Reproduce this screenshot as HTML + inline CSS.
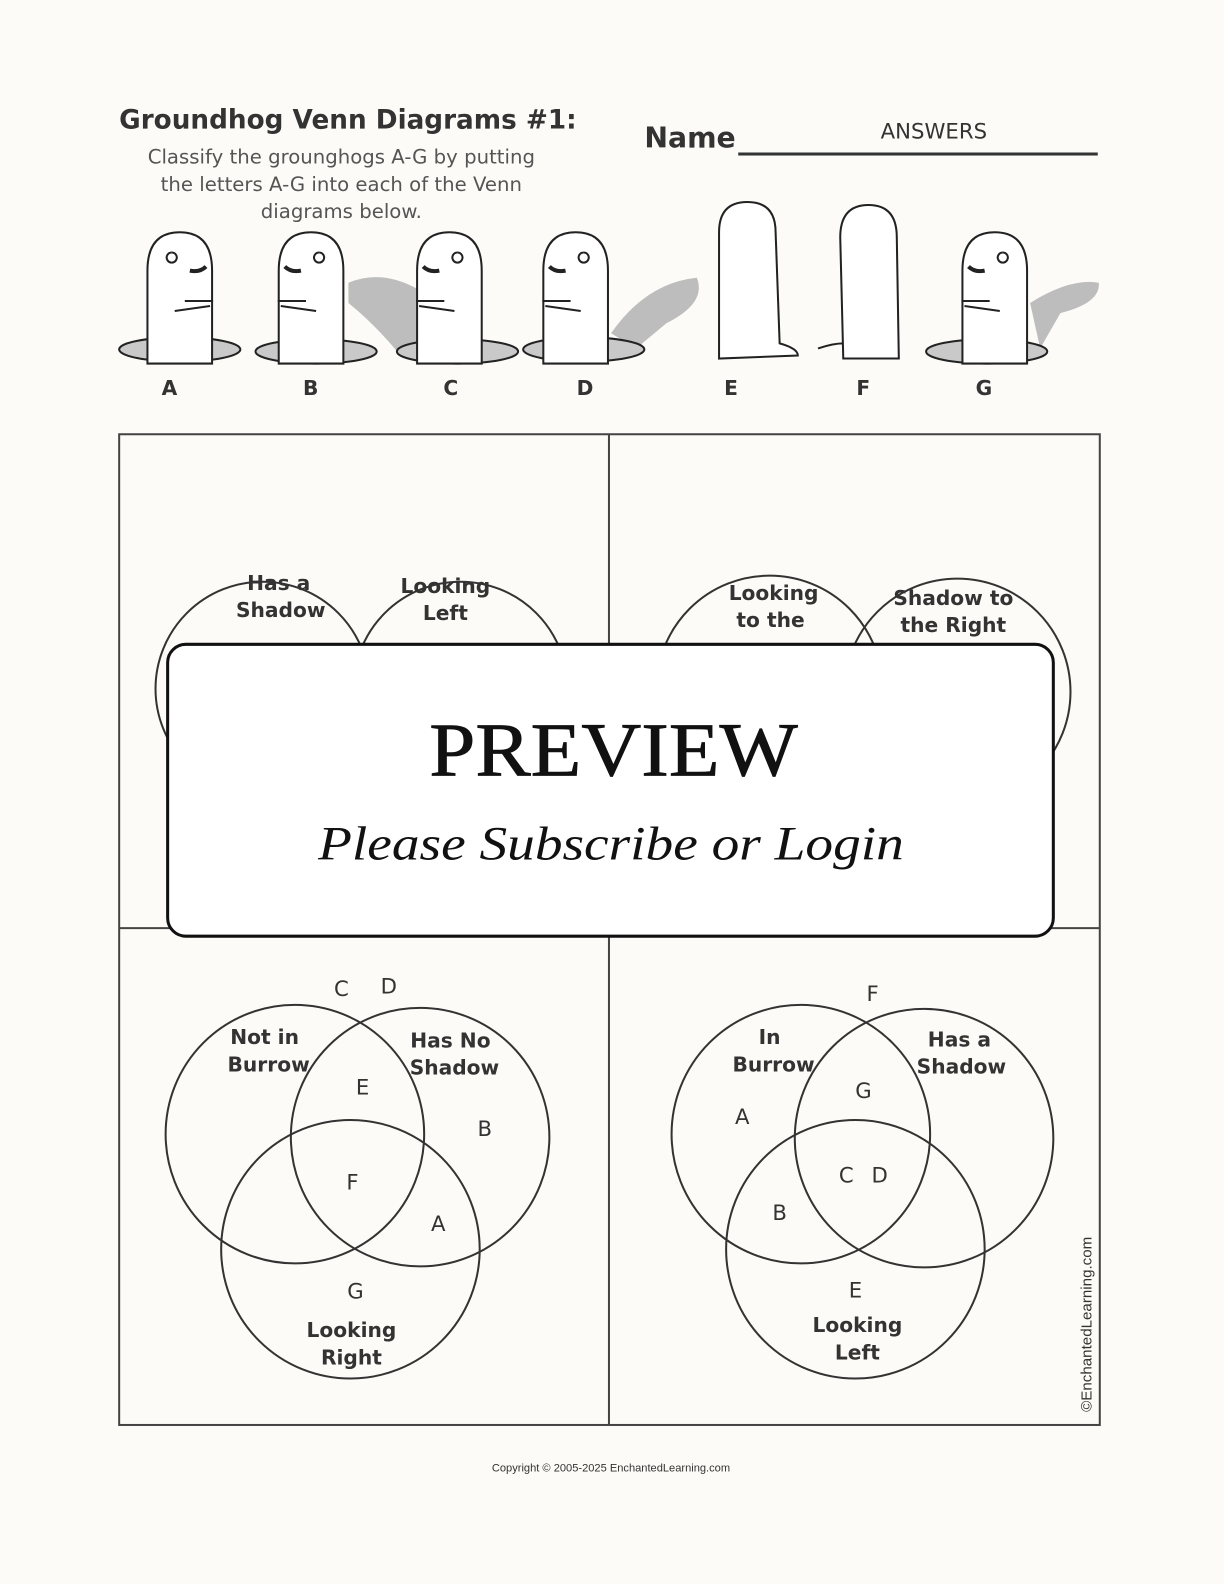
<!DOCTYPE html>
<html><head><meta charset="utf-8"><style>
html,body{margin:0;padding:0;background:#fcfbf7;}
body{width:1224px;height:1584px;position:relative;overflow:hidden;font-family:"Liberation Sans",sans-serif;}
#w{position:absolute;left:0;top:0;width:1212px;height:1568px;transform:scale(1.0099);transform-origin:0 0;}
.t{position:absolute;white-space:nowrap;}
</style></head><body><div id="w">
<div class="t" style="left:118px;top:104px;font-family:'DejaVu Sans',sans-serif;font-size:26px;font-weight:bold;color:#333;">Groundhog Venn Diagrams #1:</div>
<div class="t" style="left:108px;top:142px;width:460px;text-align:center;font-family:'DejaVu Sans',sans-serif;font-size:19.5px;line-height:27px;color:#555;">Classify the grounghogs A-G by putting<br>the letters A-G into each of the Venn<br>diagrams below.</div>
<div class="t" style="left:638px;top:120px;font-family:'DejaVu Sans',sans-serif;font-size:28px;font-weight:bold;color:#333;">Name</div>
<div class="t" style="left:872px;top:118px;font-family:'DejaVu Sans',sans-serif;font-size:21px;color:#333;">ANSWERS</div>
<div style="position:absolute;left:731px;top:151px;width:356px;height:3px;background:#333;"></div>

<svg width="1212" height="1568" style="position:absolute;left:0;top:0" font-family="DejaVu Sans, sans-serif">
<defs>
<g id="hog">
<path d="M-32,52 L-32,-40 Q-32,-78 0,-78 Q32,-78 32,-40 L32,52 Z" fill="#fff" stroke="#222" stroke-width="2"/>
<path d="M-8,-58 a5,5 0 1 0 0.1,0" fill="none" stroke="#222" stroke-width="2"/>
<path d="M10,-40 q10,2 16,-4" stroke="#222" stroke-width="4" fill="none"/>
<path d="M5,-10 l28,0 M-5,0 l35,-5" stroke="#222" stroke-width="2" fill="none"/>
</g>
</defs>
<g stroke="#222" stroke-width="2" fill="#c9c9c9">
<path d="M345,280 Q380,265 420,290 L430,350 L395,350 Q370,320 345,300 Z" fill="#bdbdbd" stroke="none"/>
<path d="M605,330 Q640,280 690,275 Q700,300 660,320 L630,345 Z" fill="#bdbdbd" stroke="none"/>
<path d="M1020,300 Q1060,275 1088,280 Q1090,300 1050,310 L1030,345 Z" fill="#bdbdbd" stroke="none"/>
<ellipse cx="178" cy="346" rx="60" ry="12"/>
<ellipse cx="313" cy="348" rx="60" ry="12"/>
<ellipse cx="453" cy="348" rx="60" ry="12"/>
<ellipse cx="578" cy="346" rx="60" ry="12"/>
<ellipse cx="977" cy="348" rx="60" ry="12"/>
</g>
<use href="#hog" x="178" y="308"/>
<use href="#hog" x="308" y="308" transform="translate(616,0) scale(-1,1)"/>
<use href="#hog" x="445" y="308" transform="translate(890,0) scale(-1,1)"/>
<use href="#hog" x="570" y="308" transform="translate(1140,0) scale(-1,1)"/>
<use href="#hog" x="985" y="308" transform="translate(1970,0) scale(-1,1)"/>
<g fill="#fff" stroke="#222" stroke-width="2">
<path d="M712,355 L712,230 Q712,200 740,200 Q768,200 768,230 L772,340 Q790,345 790,352 L712,355 Z"/>
<path d="M835,355 L832,235 Q832,203 860,203 Q888,203 888,235 L890,355 Z"/>
<path d="M810,345 Q825,340 835,340" fill="none"/>
</g>
<g font-size="20" font-weight="bold" fill="#333">
<text x="160" y="391">A</text><text x="300" y="391">B</text><text x="439" y="391">C</text><text x="571" y="391">D</text><text x="717" y="391">E</text><text x="848" y="391">F</text><text x="966" y="391">G</text>
</g>
<rect x="118" y="430" width="971" height="981" fill="none" stroke="#444" stroke-width="2"/>
<line x1="603" y1="430" x2="603" y2="1411" stroke="#444" stroke-width="2"/>
<line x1="118" y1="919" x2="1089" y2="919" stroke="#444" stroke-width="2"/>
<g fill="none" stroke="#333" stroke-width="2">
<circle cx="260" cy="682" r="106"/><circle cx="456" cy="682" r="106"/>
<circle cx="762" cy="682" r="112"/><circle cx="948" cy="685" r="112"/>
<circle cx="292" cy="1123" r="128"/><circle cx="416" cy="1126" r="128"/><circle cx="347" cy="1237" r="128"/>
<circle cx="793" cy="1123" r="128"/><circle cx="915" cy="1127" r="128"/><circle cx="847" cy="1237" r="128"/>
</g>
<g font-size="20" font-weight="bold" fill="#333" text-anchor="middle">
<text x="276" y="584">Has a</text><text x="278" y="611">Shadow</text>
<text x="441" y="587">Looking</text><text x="441" y="614">Left</text>
<text x="766" y="594">Looking</text><text x="763" y="621">to the</text>
<text x="944" y="599">Shadow to</text><text x="944" y="626">the Right</text>
<text x="262" y="1034">Not in</text><text x="266" y="1061">Burrow</text>
<text x="446" y="1037">Has No</text><text x="450" y="1064">Shadow</text>
<text x="348" y="1324">Looking</text><text x="348" y="1351">Right</text>
<text x="762" y="1034">In</text><text x="766" y="1061">Burrow</text>
<text x="950" y="1036">Has a</text><text x="952" y="1063">Shadow</text>
<text x="849" y="1319">Looking</text><text x="849" y="1346">Left</text>
</g>
<g font-size="21" fill="#333" text-anchor="middle">
<text x="338" y="986">C</text><text x="385" y="984">D</text><text x="359" y="1084">E</text><text x="480" y="1125">B</text>
<text x="349" y="1178">F</text><text x="434" y="1219">A</text><text x="352" y="1286">G</text>
<text x="864" y="991">F</text><text x="855" y="1087">G</text><text x="735" y="1113">A</text><text x="838" y="1171">C</text><text x="871" y="1171">D</text>
<text x="772" y="1208">B</text><text x="847" y="1285">E</text>
</g>
<text x="1081" y="1398" font-family="Liberation Sans, sans-serif" font-size="15" fill="#333" transform="rotate(-90 1081 1398)">©EnchantedLearning.com</text>
<rect x="166" y="638" width="877" height="289" rx="18" fill="#fff" stroke="#111" stroke-width="3"/>
<text x="425" y="768" font-family="Liberation Serif, serif" font-size="76" textLength="365" lengthAdjust="spacingAndGlyphs" fill="#111" stroke="#111" stroke-width="0.8">PREVIEW</text>
<text x="315" y="851" font-family="Liberation Serif, serif" font-size="47" font-style="italic" textLength="580" lengthAdjust="spacingAndGlyphs" fill="#111">Please Subscribe or Login</text>
<text x="605" y="1457" font-family="Liberation Sans, sans-serif" font-size="11" text-anchor="middle" fill="#333">Copyright © 2005-2025 EnchantedLearning.com</text>
</svg>
</div></body></html>
